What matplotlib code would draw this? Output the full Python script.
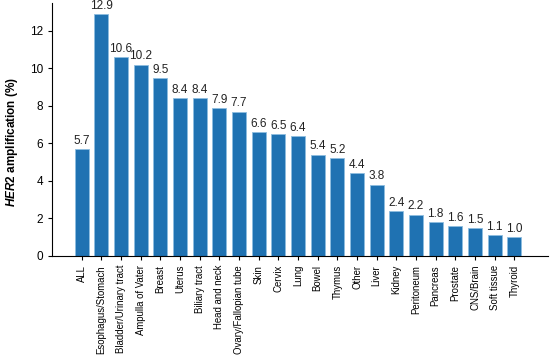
import matplotlib
matplotlib.use("Agg")
import matplotlib.pyplot as plt

categories = ["ALL", "Esophagus/Stomach", "Bladder/Urinary tract", "Ampulla of Vater",
              "Breast", "Uterus", "Biliary tract", "Head and neck", "Ovary/Fallopian tube",
              "Skin", "Cervix", "Lung", "Bowel", "Thymus", "Other", "Liver", "Kidney",
              "Peritoneum", "Pancreas", "Prostate", "CNS/Brain", "Soft tissue", "Thyroid"]
values = [5.7, 12.9, 10.6, 10.2, 9.5, 8.4, 8.4, 7.9, 7.7, 6.6, 6.5, 6.4, 5.4, 5.2,
          4.4, 3.8, 2.4, 2.2, 1.8, 1.6, 1.5, 1.1, 1.0]

plt.rcParams['font.family'] = ['Liberation Sans', 'DejaVu Sans']
plt.rcParams['mathtext.fontset'] = 'custom'
plt.rcParams['mathtext.it'] = 'Liberation Sans:italic:bold'
plt.rcParams['mathtext.rm'] = 'Liberation Sans:bold'

fig = plt.figure(figsize=(5.5, 3.58), dpi=100)
ax = fig.add_axes([0.095, 0.285, 0.901, 0.707])

x = range(len(categories))
ax.bar(x, values, width=0.72, color="#1f72b2", edgecolor="#8dbde0", linewidth=0.6)
for i, v in zip(x, values):
    ax.text(i, v + 0.12, f"{v:.1f}", ha="center", va="bottom", fontsize=8.5, color="#222222")

ax.set_xlim(-1.5, 23.7)
ax.set_ylim(0, 13.5)
ax.set_yticks([0, 2, 4, 6, 8, 10, 12])
ax.set_xticks(list(x))
ax.set_xticklabels(categories, rotation=90, fontsize=6.9)
ax.tick_params(axis="y", labelsize=8.5, length=3)
ax.tick_params(axis="x", length=3)
ax.spines["top"].set_visible(False)
ax.spines["right"].set_visible(False)
ax.set_ylabel(r"$\it{HER2}$ amplification (%)", fontsize=8.5, fontweight="bold")
ax.yaxis.set_label_coords(-0.066, 0.45)

fig.savefig("out.png", dpi=100)
